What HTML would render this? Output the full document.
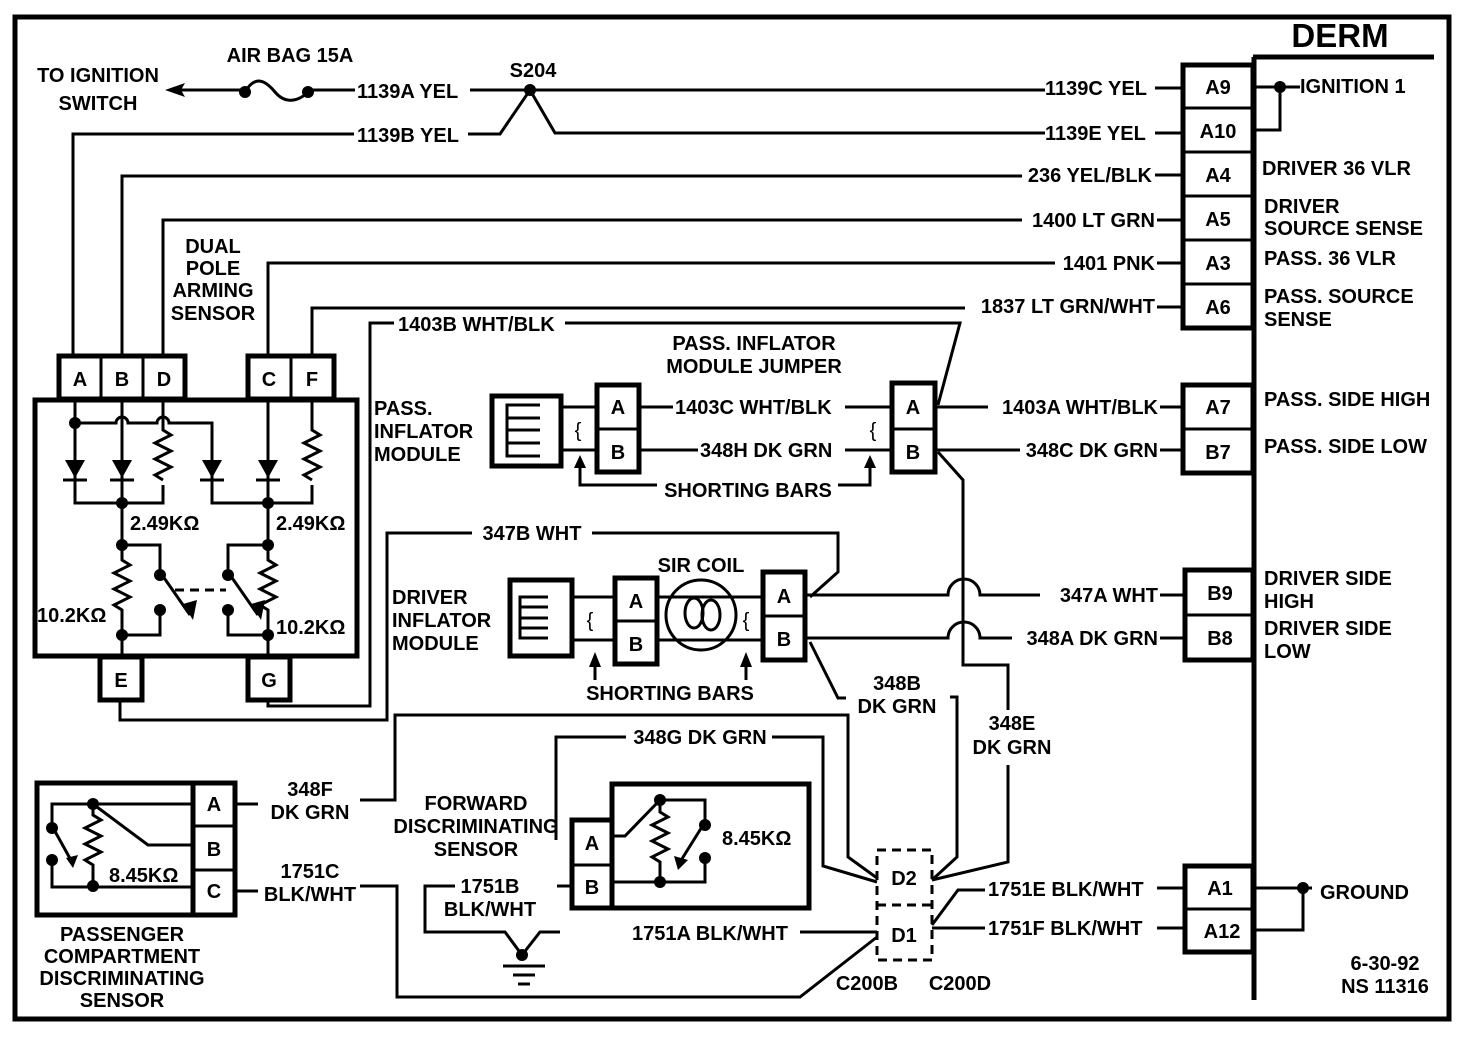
<!DOCTYPE html>
<html><head><meta charset="utf-8"><style>
html,body{margin:0;padding:0;background:#fff;}
svg{display:block;}
text{font-family:"Liberation Sans",sans-serif;font-weight:bold;font-size:20px;fill:#000;}
.w{fill:none;stroke:#000;stroke-width:3;}
.t{fill:none;stroke:#000;stroke-width:5;}
.m{text-anchor:middle;}
.e{text-anchor:end;}
</style></head><body>
<svg width="1472" height="1038" viewBox="0 0 1472 1038" xmlns="http://www.w3.org/2000/svg">
<path class="t" d="M15 17 H1449 V1019 H15 Z" stroke-width="4"/>
<text x="1340" y="47" class="m" style="font-size:33px">DERM</text>
<path class="t" d="M1253 57 H1434 M1254 57 V1000"/>
<g class="t"><rect x="1183" y="65" width="70" height="263" fill="#fff"/><rect x="1183" y="385" width="70" height="88" fill="#fff"/><rect x="1185" y="570" width="68" height="90" fill="#fff"/><rect x="1185" y="866" width="68" height="86" fill="#fff"/></g>
<g class="w"><path d="M1183 108 H1253 M1183 152 H1253 M1183 196 H1253 M1183 240 H1253 M1183 284 H1253 M1183 429 H1253 M1185 615 H1253 M1185 909 H1253"/></g>
<g class="m">
<text x="1218" y="94">A9</text><text x="1218" y="138">A10</text><text x="1218" y="182">A4</text><text x="1218" y="226">A5</text><text x="1218" y="270">A3</text><text x="1218" y="314">A6</text>
<text x="1218" y="414">A7</text><text x="1218" y="459">B7</text><text x="1220" y="600">B9</text><text x="1220" y="645">B8</text>
<text x="1220" y="895">A1</text><text x="1222" y="938">A12</text></g>
<text x="1300" y="93">IGNITION 1</text>
<path class="w" d="M1253 87 H1300 M1280 87 V130 H1253"/><circle cx="1280" cy="87" r="6"/>
<text x="1262" y="175">DRIVER 36 VLR</text>
<text x="1264" y="213">DRIVER</text><text x="1264" y="235">SOURCE SENSE</text>
<text x="1264" y="265">PASS. 36 VLR</text>
<text x="1264" y="303">PASS. SOURCE</text><text x="1264" y="326">SENSE</text>
<text x="1264" y="406">PASS. SIDE HIGH</text><text x="1264" y="453">PASS. SIDE LOW</text>
<text x="1264" y="585">DRIVER SIDE</text><text x="1264" y="608">HIGH</text>
<text x="1264" y="635">DRIVER SIDE</text><text x="1264" y="658">LOW</text>
<text x="1320" y="899">GROUND</text>
<path class="w" d="M1253 888 H1312 M1253 930 H1303 V888"/><circle cx="1303" cy="888" r="6"/>
<text x="1385" y="970" class="m">6-30-92</text><text x="1385" y="993" class="m">NS 11316</text>

<text x="98" y="82" class="m">TO IGNITION</text><text x="98" y="110" class="m">SWITCH</text>
<text x="290" y="62" class="m">AIR BAG 15A</text>
<path class="w" d="M175 90 H243 M310 90 H355"/>
<path d="M165 90 L185 83 L181 90 L185 97 Z"/>
<path class="w" d="M245 92 C255 75 265 80 275 92 C285 104 298 102 308 92"/>
<circle cx="245" cy="92" r="6"/><circle cx="308" cy="92" r="6"/>
<text x="357" y="98">1139A YEL</text>
<path class="w" d="M470 90 H1045 M1155 88 H1183"/>
<circle cx="530" cy="90" r="6"/><text x="533" y="77" class="m">S204</text>
<text x="1045" y="95">1139C YEL</text>
<text x="357" y="142">1139B YEL</text>
<path class="w" d="M354 134 H73 V355 M468 134 H500 L530 90 L555 133 H1045 M1155 133 H1183"/>
<text x="1045" y="140">1139E YEL</text>
<path class="w" d="M122 355 V176 H1022 M1155 175 H1183"/><text x="1152" y="182" class="e">236 YEL/BLK</text>
<path class="w" d="M163 355 V220 H1022 M1157 220 H1183"/><text x="1155" y="227" class="e">1400 LT GRN</text>
<path class="w" d="M268 355 V263 H1055 M1157 263 H1183"/><text x="1155" y="270" class="e">1401 PNK</text>
<path class="w" d="M312 355 V308 H965 M1157 307 H1183"/><text x="1155" y="313" class="e">1837 LT GRN/WHT</text>

<text x="213" y="253" class="m">DUAL</text><text x="213" y="275" class="m">POLE</text><text x="213" y="297" class="m">ARMING</text><text x="213" y="320" class="m">SENSOR</text>
<rect class="t" x="35" y="400" width="322" height="256"/>
<g class="t"><rect x="59" y="356" width="126" height="43" fill="#fff"/><rect x="248" y="356" width="86" height="43" fill="#fff"/><rect x="100" y="657" width="42" height="43" fill="#fff"/><rect x="248" y="657" width="42" height="43" fill="#fff"/></g>
<path class="w" d="M101 356 V399 M143 356 V399 M291 356 V399"/>
<g class="m"><text x="80" y="386">A</text><text x="122" y="386">B</text><text x="164" y="386">D</text><text x="269" y="386">C</text><text x="312" y="386">F</text><text x="121" y="687">E</text><text x="269" y="687">G</text></g>
<g class="w">
<path d="M75 400 V503 H163 V485"/>
<path d="M75 423 H116 A6 6 0 0 1 128 423 H157 A6 6 0 0 1 169 423 H212 V503 H312 V485"/>
<path d="M122 400 V545 V560 l8 5 -16 8 16 8 -16 8 16 8 -16 8 8 5 V657"/>
<path d="M163 400 V430 l8 5 -16 8 16 8 -16 8 16 8 -16 8 8 5"/>
<path d="M312 400 V430 l8 5 -16 8 16 8 -16 8 16 8 -16 8 8 5"/>
<path d="M268 400 V545 V560 l8 5 -16 8 16 8 -16 8 16 8 -16 8 8 5 V657"/>
<path d="M122 545 H160 V572 M160 610 V635 H122 M268 545 H228 V572 M228 610 V635 H268"/>
<path d="M160 572 L190 615 M228 572 L258 615"/>
<path d="M175 590 H226" stroke-dasharray="9 6"/>
</g>
<g><path d="M65 460 H85 L75 478 Z M112 460 H132 L122 478 Z M202 460 H222 L212 478 Z M258 460 H278 L268 478 Z"/>
<path class="w" d="M63 480 H87 M110 480 H134 M200 480 H224 M256 480 H280"/>
<path d="M183 604 L193 620 L197 600 Z M251 604 L261 620 L265 600 Z"/>
<circle cx="75" cy="423" r="6"/><circle cx="122" cy="503" r="6"/><circle cx="268" cy="503" r="6"/><circle cx="122" cy="545" r="6"/><circle cx="268" cy="545" r="6"/><circle cx="122" cy="635" r="6"/><circle cx="268" cy="635" r="6"/><circle cx="160" cy="575" r="6"/><circle cx="160" cy="610" r="6"/><circle cx="228" cy="575" r="6"/><circle cx="228" cy="610" r="6"/></g>
<text x="130" y="530">2.49KΩ</text><text x="276" y="530">2.49KΩ</text>
<text x="37" y="622">10.2KΩ</text><text x="276" y="634">10.2KΩ</text>
<path class="w" d="M120 700 V720 H387 V533 H472 M592 533 H838 V572 L810 597"/>
<text x="532" y="540" class="m">347B WHT</text>
<path class="w" d="M268 700 V706 H370 V323 H394 M565 323 H960 L938 405"/>
<text x="398" y="331">1403B WHT/BLK</text>

<text x="374" y="415">PASS.</text><text x="374" y="438">INFLATOR</text><text x="374" y="461">MODULE</text>
<text x="754" y="350" class="m">PASS. INFLATOR</text><text x="754" y="373" class="m">MODULE JUMPER</text>
<rect class="t" x="492" y="396" width="69" height="70"/>
<path class="w" d="M540 405 H507 V456 H540 M507 418 H540 M507 430 H540 M507 443 H540"/>
<path class="w" d="M561 407 H597 M561 450 H597"/>
<text x="578" y="437" class="m" style="font-weight:normal">{</text>
<rect class="t" x="597" y="385" width="42" height="87"/><path class="w" d="M597 429 H639"/>
<text x="618" y="414" class="m">A</text><text x="618" y="459" class="m">B</text>
<path class="w" d="M639 407 H673 M845 407 H892 M639 450 H698 M845 450 H892"/>
<text x="675" y="414">1403C WHT/BLK</text><text x="700" y="457">348H DK GRN</text>
<text x="873" y="437" class="m" style="font-weight:normal">{</text>
<rect class="t" x="892" y="383" width="43" height="89"/><path class="w" d="M892 429 H935"/>
<text x="913" y="414" class="m">A</text><text x="913" y="459" class="m">B</text>
<path class="w" d="M935 407 H988 M1160 407 H1183 M935 450 H1020 M1160 450 H1183"/>
<text x="1158" y="414" class="e">1403A WHT/BLK</text><text x="1158" y="457" class="e">348C DK GRN</text>
<path class="w" d="M580 462 V485 H657 M838 485 H870 V462"/>
<path d="M574 468 L580 455 L586 468 Z M864 468 L870 455 L876 468 Z"/>
<text x="748" y="497" class="m">SHORTING BARS</text>
<path class="w" d="M938 452 L963 480 V665 H1008 V710 M1008 765 V862 L932 880"/>
<text x="1012" y="730" class="m">348E</text><text x="1012" y="754" class="m">DK GRN</text>

<text x="392" y="604">DRIVER</text><text x="392" y="627">INFLATOR</text><text x="392" y="650">MODULE</text>
<rect class="t" x="510" y="580" width="62" height="76"/>
<path class="w" d="M548 597 H520 V638 H548 M520 607 H548 M520 618 H548 M520 628 H548"/>
<path class="w" d="M572 597 H615 M572 640 H615"/>
<text x="590" y="627" class="m" style="font-weight:normal">{</text>
<rect class="t" x="615" y="578" width="42" height="86"/><path class="w" d="M615 621 H657"/>
<text x="636" y="608" class="m">A</text><text x="636" y="651" class="m">B</text>
<path class="w" d="M657 597 H763 M657 640 H763"/>
<circle class="w" cx="701" cy="615" r="35"/>
<ellipse class="w" cx="694" cy="613" rx="9" ry="15"/><ellipse class="w" cx="711" cy="615" rx="9" ry="15"/>
<text x="701" y="572" class="m">SIR COIL</text>
<text x="746" y="627" class="m" style="font-weight:normal">{</text>
<rect class="t" x="763" y="572" width="42" height="88"/><path class="w" d="M763 616 H805"/>
<text x="784" y="603" class="m">A</text><text x="784" y="646" class="m">B</text>
<path class="w" d="M805 595 H948 A16 16 0 0 1 980 595 H1040 M1160 595 H1185"/>
<path class="w" d="M805 638 H948 A16 16 0 0 1 980 638 H1012 M1160 638 H1185"/>
<text x="1158" y="602" class="e">347A WHT</text><text x="1158" y="645" class="e">348A DK GRN</text>
<path class="w" d="M595 663 V680 M746 663 V680"/>
<path d="M589 667 L595 652 L601 667 Z M740 667 L746 652 L752 667 Z"/>
<text x="670" y="700" class="m">SHORTING BARS</text>
<path class="w" d="M810 642 L838 698 H846 M950 697 H957 V857 L932 880"/>
<text x="897" y="690" class="m">348B</text><text x="897" y="713" class="m">DK GRN</text>

<path class="w" d="M360 800 H395 V715 H848 V857 L877 878"/>
<path class="w" d="M556 840 V737 H626 M772 737 H823 V866 L877 882"/>
<text x="700" y="744" class="m">348G DK GRN</text>
<text x="476" y="810" class="m">FORWARD</text><text x="476" y="833" class="m">DISCRIMINATING</text><text x="476" y="856" class="m">SENSOR</text>
<rect class="t" x="612" y="784" width="197" height="124"/>
<g class="t"><rect x="572" y="820" width="40" height="88" fill="#fff"/></g><path class="w" d="M572 865 H612"/>
<text x="592" y="850" class="m">A</text><text x="592" y="894" class="m">B</text>
<g class="w"><path d="M612 836 H625 L660 800 H705 V822 M705 862 V882 H612 M660 800 V812 l8 5 -16 8 16 8 -16 8 16 8 -16 8 8 5 V882 M705 822 L680 862"/></g>
<path d="M674 856 L678 870 L688 860 Z"/>
<circle cx="660" cy="800" r="6"/><circle cx="705" cy="825" r="6"/><circle cx="705" cy="858" r="6"/><circle cx="660" cy="882" r="6"/>
<text x="722" y="845">8.45KΩ</text>
<path class="w" d="M572 886 H557 M455 886 H425 V932 H505 L522 955 L540 932 H560 M800 932 H877"/>
<circle cx="522" cy="955" r="6"/>
<path class="w" d="M503 966 H545 M513 975 H535 M518 984 H530"/>
<text x="490" y="893" class="m">1751B</text><text x="490" y="916" class="m">BLK/WHT</text>
<text x="710" y="940" class="m">1751A BLK/WHT</text>

<rect class="t" x="37" y="783" width="198" height="132"/>
<g class="t"><rect x="193" y="783" width="42" height="132" fill="#fff"/></g><path class="w" d="M193 826 H235 M193 870 H235"/>
<g class="m"><text x="214" y="811">A</text><text x="214" y="856">B</text><text x="214" y="898">C</text></g>
<g class="w"><path d="M193 804 H52 V826 M52 858 V887 H193 M93 804 L148 845 H193 M93 804 V815 l8 5 -16 8 16 8 -16 8 16 8 -16 8 8 5 V887 M52 826 L72 862"/></g>
<path d="M66 858 L73 868 L78 855 Z"/>
<circle cx="93" cy="804" r="6"/><circle cx="52" cy="828" r="6"/><circle cx="52" cy="860" r="6"/><circle cx="93" cy="886" r="6"/>
<text x="109" y="882">8.45KΩ</text>
<path class="w" d="M235 804 H258 M235 891 H258"/>
<text x="310" y="796" class="m">348F</text><text x="310" y="819" class="m">DK GRN</text>
<text x="310" y="878" class="m">1751C</text><text x="310" y="901" class="m">BLK/WHT</text>
<path class="w" d="M360 886 H397 V997 H800 L877 937"/>
<text x="122" y="941" class="m">PASSENGER</text><text x="122" y="963" class="m">COMPARTMENT</text><text x="122" y="985" class="m">DISCRIMINATING</text><text x="122" y="1007" class="m">SENSOR</text>

<path class="w" d="M877 850 H932 V960 H877 Z M877 905 H932" stroke-dasharray="9 6"/>
<text x="904" y="885" class="m">D2</text><text x="904" y="942" class="m">D1</text>
<text x="867" y="990" class="m">C200B</text><text x="960" y="990" class="m">C200D</text>
<path class="w" d="M932 925 L958 890 H985 M932 928 H985 M1157 888 H1185 M1157 928 H1185"/>
<text x="988" y="896">1751E BLK/WHT</text><text x="988" y="935">1751F BLK/WHT</text>
</svg>
</body></html>
